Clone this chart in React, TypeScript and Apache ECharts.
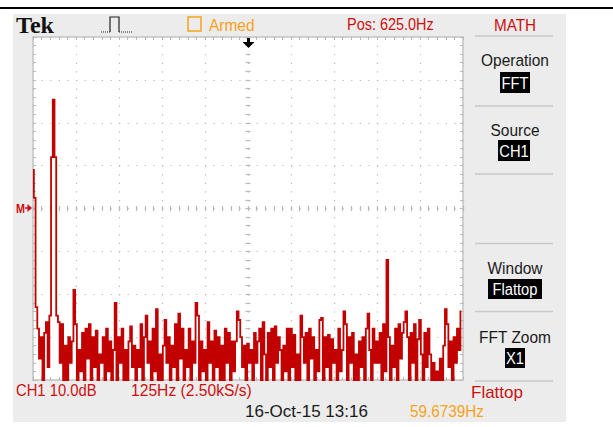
import React, { useEffect, useRef } from 'react';
import * as echarts from 'echarts';

// FFT display: 0 .. 1250 Hz (125 Hz/div), 10 dB/div, reference (M) at centre
const BIN_HZ = 5;
const SPAN_HZ = 1250;
const HZ_PER_DIV = 125;
const DB_MIN = -40;
const DB_MAX = 40;
const DB_PER_DIV = 10;

// Magnitude of each FFT bin in dB (values below -40 are off the bottom of the screen)
const spectrumDb = [
  9, 2.5, -23, -28, -35, -30, -44, -29, -26.5, -37,
  -25, 12, 25.4, 12, -25, -26.5, -36, -27, -44, -32,
  -42, -30, -36, -31, -19, -27, -43, -33, -38, -29,
  -44, -28, -35, -27, -45, -30, -37, -28.5, -43, -34,
  -36, -30, -44, -28, -38, -31, -42, -33, -22, -41,
  -30, -36, -28, -44, -33, -42, -31, -27.5, -37, -32,
  -43, -33, -37, -27, -44, -30, -25, -36, -31, -44,
  -28, -38, -23.5, -42, -34, -44, -32, -26, -36, -30,
  -44, -32, -37, -27, -45, -24.5, -35, -28, -43, -33,
  -37, -28, -42, -31, -36, -22, -25, -44, -31, -38,
  -33, -43, -26.5, -36, -31, -44, -28.5, -37, -30, -44,
  -32, -43, -28, -36, -29, -45, -31, -38, -31, -24,
  -26, -30, -37, -32, -44, -31.5, -36, -33, -42, -29,
  -36, -31, -28, -44, -26.5, -34, -42, -29, -37, -28,
  -42, -27.5, -36, -30, -33, -41, -32, -38, -28, -44,
  -28, -37, -29.5, -43, -34, -44, -25, -30, -36, -29,
  -44, -28, -35, -30, -44, -33, -38, -26, -25.5, -43,
  -30, -37, -29.5, -42, -30.5, -36, -33, -43, -28, -38,
  -33, -24, -27, -43, -30, -36, -29, -41, -34, -44,
  -31, -37, -30, -42, -28, -24.5, -33, -43, -28, -36,
  -31, -36, -29, -44, -27, -38, -12, -30, -43, -32,
  -37, -28, -41, -27, -35, -29, -26.5, -24, -30, -43,
  -29, -36, -27, -42, -30.5, -26, -34, -43, -29, -37,
  -28, -34, -43, -36, -44, -38, -45, -35, -44, -32,
  -23.5, -27, -37, -31, -44, -30, -36, -28, -33, -24,
];

// Screen texts
const topTexts = { status: 'Armed', position: 'Pos: 625.0Hz', menu: 'MATH' };
const menuItems = [
  { label: 'Operation', value: 'FFT' },
  { label: 'Source', value: 'CH1' },
  { label: 'Window', value: 'Flattop' },
  { label: 'FFT Zoom', value: 'X1' },
];
const bottomTexts = {
  scale: 'CH1 10.0dB',
  rate: '125Hz (2.50kS/s)',
  window: 'Flattop',
  date: '16-Oct-15 13:16',
  freq: '59.6739Hz',
};

const RED = '#cc1010';
const TRACE = '#c20000';
const ORANGE = '#f7a21b';
const PANEL = '#ececec';
const FRAME = '#c4c4c4';
const TICK = '#b8b8b8';
const FONT = '"Liberation Sans", Arial, sans-serif';

const GRID = { left: 33, top: 37, width: 430, height: 343 };

function txt(text: string, x: number, y: number, fill: string, opts: any = {}) {
  const size = opts.size ?? 17;
  const align = opts.align ?? 'left';
  return {
    type: 'text',
    x,
    y,
    scaleX: opts.scaleX ?? 0.9,
    z: 10,
    style: {
      text,
      fill,
      font: `${opts.weight ?? 'normal'} ${size}px ${opts.family ?? FONT}`,
      align,
      textAlign: align,
      verticalAlign: 'middle',
      textVerticalAlign: 'middle',
    },
  };
}

export default function App() {
  const ref = useRef<HTMLDivElement>(null);

  useEffect(() => {
    if (!ref.current) return;
    const chart = echarts.init(ref.current, null, { renderer: 'svg' });

    const hSplitDash = [1.2, GRID.width / 50 - 1.2];
    const vSplitDash = [1.2, GRID.height / 40 - 1.2];

    const xBase = {
      type: 'value',
      min: 0,
      max: SPAN_HZ,
      interval: HZ_PER_DIV,
      axisLabel: { show: false },
      splitLine: { show: false },
    };
    const yBase = {
      type: 'value',
      min: DB_MIN,
      max: DB_MAX,
      interval: DB_PER_DIV,
      axisLabel: { show: false },
      splitLine: { show: false },
    };
    const edgeLine = { show: true, onZero: false, lineStyle: { color: FRAME, width: 1.5 } };
    const edgeTick = { show: true, inside: true, length: 3, lineStyle: { color: TICK, width: 1 } };
    const edgeMinor = { show: true, splitNumber: 5, length: 3, lineStyle: { color: TICK, width: 1 } };
    const centerTick = { show: true, inside: true, length: 5, lineStyle: { color: TICK, width: 1.2 } };
    const centerMinor = { show: true, splitNumber: 5, length: 5, lineStyle: { color: TICK, width: 1.2 } };

    const menuGraphics: any[] = [];
    const sepYs = [36, 106, 174, 243.5, 311.5, 381];
    sepYs.forEach((y) =>
      menuGraphics.push({
        type: 'line',
        z: 5,
        shape: { x1: 475, y1: y, x2: 553, y2: y },
        style: { stroke: '#c9c9c9', lineWidth: 1.5 },
      })
    );
    const menuLayout = [
      { labelY: 59.5, box: [500, 72, 30, 21] },
      { labelY: 130, box: [498, 140, 32, 21] },
      { labelY: 267.5, box: [488, 279, 54, 20] },
      { labelY: 336.5, box: [505, 348, 20, 20] },
    ];
    menuItems.forEach((m, i) => {
      const L = menuLayout[i];
      menuGraphics.push(txt(m.label, 515, L.labelY, '#1a1a1a', { align: 'center', scaleX: 0.91 }));
      menuGraphics.push({
        type: 'rect',
        z: 9,
        shape: { x: L.box[0], y: L.box[1], width: L.box[2], height: L.box[3] },
        style: { fill: '#000' },
      });
      menuGraphics.push(
        txt(m.value, L.box[0] + L.box[2] / 2, L.box[1] + L.box[3] / 2 + 0.5, '#fff', {
          align: 'center',
          size: 16,
          scaleX: 0.92,
        })
      );
    });

    const option: any = {
      animation: false,
      backgroundColor: '#ffffff',
      grid: {
        ...GRID,
        show: true,
        backgroundColor: '#ffffff',
        borderWidth: 0,
        containLabel: false,
      },
      xAxis: [
        {
          ...xBase,
          position: 'bottom',
          axisLine: edgeLine,
          axisTick: edgeTick,
          minorTick: edgeMinor,
          splitLine: { show: true, lineStyle: { color: '#b6b6b6', width: 1.2, type: vSplitDash } },
        },
        { ...xBase, position: 'top', axisLine: edgeLine, axisTick: edgeTick, minorTick: edgeMinor },
        {
          ...xBase,
          position: 'bottom',
          offset: -(GRID.height / 2) + 2.5,
          axisLine: { show: false, onZero: false },
          axisTick: centerTick,
          minorTick: centerMinor,
        },
      ],
      yAxis: [
        {
          ...yBase,
          position: 'left',
          axisLine: edgeLine,
          axisTick: edgeTick,
          minorTick: edgeMinor,
          splitLine: { show: true, lineStyle: { color: '#b6b6b6', width: 1.2, type: hSplitDash } },
        },
        { ...yBase, position: 'right', axisLine: edgeLine, axisTick: edgeTick, minorTick: edgeMinor },
        {
          ...yBase,
          position: 'left',
          offset: -(GRID.width / 2) + 2.5,
          axisLine: { show: false, onZero: false },
          axisTick: centerTick,
          minorTick: centerMinor,
        },
      ],
      series: [
        {
          type: 'line',
          xAxisIndex: 0,
          yAxisIndex: 0,
          data: spectrumDb.map((v, i) => [i * BIN_HZ, v]),
          step: 'middle',
          symbol: 'none',
          showSymbol: false,
          clip: true,
          z: 5,
          lineStyle: { color: TRACE, width: 1.8, join: 'miter' },
        },
      ],
      graphic: {
        elements: [
          // outer frame
          { type: 'rect', z: -10, shape: { x: 13, y: 14, width: 553, height: 408 }, style: { fill: PANEL } },
          { type: 'line', z: 5, shape: { x1: 0, y1: 8, x2: 613, y2: 8 }, style: { stroke: '#000', lineWidth: 2 } },
          // Tek logo
          txt('Tek', 16, 25, '#111', { size: 23, weight: 'bold', family: '"Liberation Serif", serif', scaleX: 1.05 }),
          // trigger icon
          {
            type: 'polyline',
            z: 10,
            shape: { points: [[101, 32], [110, 32]] },
            style: { stroke: '#222', lineWidth: 1, lineDash: [1, 1], fill: null },
          },
          {
            type: 'polyline',
            z: 10,
            shape: { points: [[110, 32], [110, 17], [119, 17], [119, 32]] },
            style: { stroke: '#222', lineWidth: 1.2, fill: null },
          },
          {
            type: 'polyline',
            z: 10,
            shape: { points: [[119, 32], [132, 32]] },
            style: { stroke: '#222', lineWidth: 1, lineDash: [1, 1], fill: null },
          },
          // status
          {
            type: 'rect',
            z: 10,
            shape: { x: 188, y: 17, width: 13, height: 14 },
            style: { fill: null, stroke: ORANGE, lineWidth: 1.5 },
          },
          txt(topTexts.status, 209, 24.5, ORANGE, { scaleX: 0.91 }),
          txt(topTexts.position, 347, 24.5, RED, { scaleX: 0.85 }),
          txt(topTexts.menu, 515, 24.5, RED, { align: 'center' }),
          // trigger position marker
          {
            type: 'polygon',
            z: 10,
            shape: { points: [[242.5, 42], [254.5, 42], [248.5, 48]] },
            style: { fill: '#000' },
          },
          { type: 'rect', z: 10, shape: { x: 247, y: 38, width: 3, height: 5 }, style: { fill: '#000' } },
          // math reference marker
          txt('M', 16, 208.5, RED, { size: 12, weight: 'bold', scaleX: 0.9 }),
          { type: 'line', z: 10, shape: { x1: 25, y1: 208, x2: 28, y2: 208 }, style: { stroke: RED, lineWidth: 1.5 } },
          {
            type: 'polygon',
            z: 10,
            shape: { points: [[27.5, 204], [32, 208], [27.5, 212]] },
            style: { fill: RED },
          },
          ...menuGraphics,
          // bottom readouts
          txt(bottomTexts.scale, 16, 390, RED, { scaleX: 0.87 }),
          txt(bottomTexts.rate, 131, 390, RED, { scaleX: 0.92 }),
          txt(bottomTexts.window, 471, 392, RED, { scaleX: 1.0 }),
          txt(bottomTexts.date, 245, 411, '#1a1a1a', { scaleX: 1.0 }),
          txt(bottomTexts.freq, 410, 411, ORANGE, { scaleX: 0.9 }),
        ],
      },
    };

    chart.setOption(option);
    return () => chart.dispose();
  }, []);

  return (
    <div
      ref={ref}
      style={{ position: 'absolute', left: 0, top: 0, width: 613, height: 427, background: '#fff' }}
    />
  );
}
